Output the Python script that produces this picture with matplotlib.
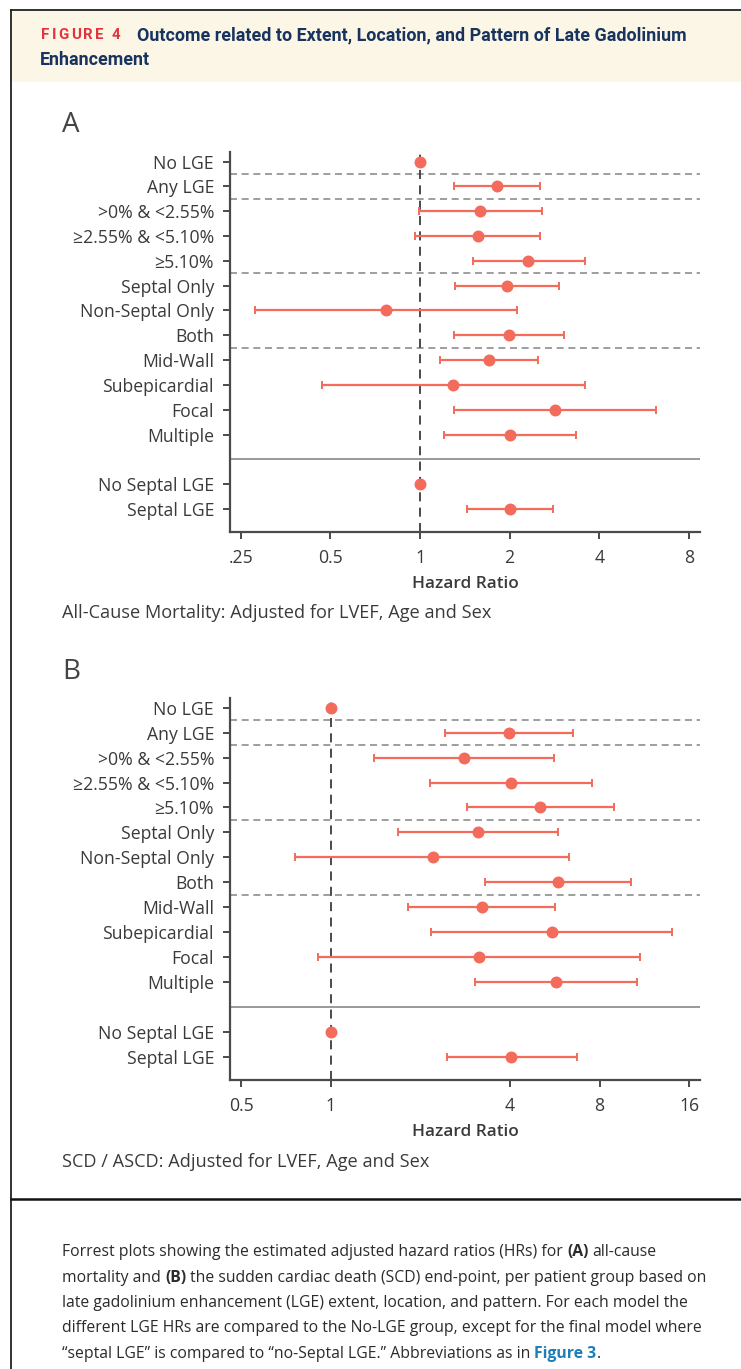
import numpy as np
import matplotlib
matplotlib.use("Agg")
import matplotlib.pyplot as plt
from matplotlib.patches import Rectangle
from matplotlib.lines import Line2D

# ---------------- data ----------------
categories = ["No LGE", "Any LGE", ">0% & <2.55%", "≥2.55% & <5.10%", "≥5.10%",
              "Septal Only", "Non-Septal Only", "Both", "Mid-Wall", "Subepicardial",
              "Focal", "Multiple", "No Septal LGE", "Septal LGE"]
row_pos = [0, 1, 2, 3, 4, 5, 6, 7, 8, 9, 10, 11, 13, 14]

hr_A = [1.00, 1.81, 1.59, 1.56, 2.31, 1.96, 0.77, 1.99, 1.70, 1.29, 2.85, 2.00, 1.00, 2.00]
lo_A = [np.nan, 1.30, 0.99, 0.96, 1.51, 1.31, 0.28, 1.30, 1.17, 0.47, 1.30, 1.20, np.nan, 1.44]
hi_A = [np.nan, 2.53, 2.56, 2.53, 3.57, 2.93, 2.12, 3.05, 2.50, 3.58, 6.22, 3.34, np.nan, 2.80]

hr_B = [1.00, 3.97, 2.80, 4.02, 5.05, 3.12, 2.20, 5.82, 3.22, 5.53, 3.16, 5.71, 1.00, 4.04]
lo_B = [np.nan, 2.42, 1.40, 2.16, 2.86, 1.68, 0.76, 3.30, 1.82, 2.18, 0.91, 3.05, np.nan, 2.45]
hi_B = [np.nan, 6.50, 5.61, 7.53, 8.97, 5.79, 6.30, 10.23, 5.66, 14.0, 10.97, 10.67, np.nan, 6.71]

xticks_A = [0.25, 0.5, 1, 2, 4, 8]
xticklabels_A = [".25", "0.5", "1", "2", "4", "8"]
xticks_B = [0.5, 1, 4, 8, 16]
xticklabels_B = ["0.5", "1", "4", "8", "16"]

dashed_sep = [0.5, 1.5, 4.5, 7.5]
solid_sep = 12

subtitle_A = "All-Cause Mortality: Adjusted for LVEF, Age and Sex"
subtitle_B = "SCD / ASCD: Adjusted for LVEF, Age and Sex"

# ---------------- style ----------------
W, H = 741, 1369
FAM = ["Open Sans", "DejaVu Sans"]
plt.rcParams["font.family"] = FAM
CORAL = "#F26B5B"
DARK = "#4a4a4a"
TXT = "#3a3a3a"

fig = plt.figure(figsize=(W / 100, H / 100), dpi=100)
fig.patch.set_facecolor("white")


def fx(px):
    return px / W


def fy(py):
    return 1 - py / H


# header band and frame
fig.patches.append(Rectangle((fx(11), fy(82)), 1 - fx(11), (82 - 10) / H,
                             transform=fig.transFigure, facecolor="#FCF6E6",
                             edgecolor="none", zorder=0))
fig.lines.append(Line2D([fx(11), 1], [fy(10), fy(10)], transform=fig.transFigure,
                        color="#222222", lw=1.3))
fig.lines.append(Line2D([fx(11), fx(11)], [fy(10), 0], transform=fig.transFigure,
                        color="#222222", lw=1.3))
fig.lines.append(Line2D([fx(11), 1], [fy(1199), fy(1199)], transform=fig.transFigure,
                        color="#111111", lw=1.8))

renderer = fig.canvas.get_renderer()


def text_width(s, **kw):
    t = fig.text(0, 0, s, **kw)
    w = t.get_window_extent(renderer).width
    t.remove()
    return w


def rich_line(x_px, y_px, segs, size, family=FAM):
    sp = text_width("a a", fontsize=size, family=family) - text_width("aa", fontsize=size, family=family)
    x = x_px
    for i, (s, weight, color, space) in enumerate(segs):
        if space and i > 0:
            x += sp
        t = fig.text(fx(x), fy(y_px), s, fontsize=size, fontweight=weight, color=color,
                     va="center", ha="left", family=family)
        x += t.get_window_extent(renderer).width


# "FIGURE 4" with letter spacing
HFAM = ["Roboto", "DejaVu Sans"]
x = 41
for ch in "FIGURE 4":
    t = fig.text(fx(x), fy(35), ch, fontsize=10.8, fontweight="bold", color="#E0353E",
                 va="center", ha="left", family=HFAM)
    x += t.get_window_extent(renderer).width + 2.2
TITLE_KW = dict(fontweight="bold", color="#17335E", va="center", ha="left", family=HFAM)
fig.text(fx(137), fy(35), "Outcome related to Extent, Location, and Pattern of Late Gadolinium",
         fontsize=12.85, **TITLE_KW)
fig.text(fx(40), fy(60), "Enhancement", fontsize=12.85, **TITLE_KW)


def forest(rect_px, hr, lo, hi, xlim, xticks, xticklabels, letter, letter_y,
           xlabel_y, subtitle, subtitle_y):
    l, t, r, b = rect_px
    ax = fig.add_axes([fx(l), fy(b), (r - l) / W, (b - t) / H])
    ax.set_xscale("log", base=2)
    ax.set_xlim(*xlim)
    ax.set_ylim(14.93, -0.39)
    ax.set_facecolor("none")

    hr = np.array(hr)
    lo = np.array(lo)
    hi = np.array(hi)
    pos = np.array(row_pos)
    has_ci = ~np.isnan(lo)
    xerr = np.vstack([hr[has_ci] - lo[has_ci], hi[has_ci] - hr[has_ci]])
    ax.errorbar(hr[has_ci], pos[has_ci], xerr=xerr, fmt="none", ecolor=CORAL,
                elinewidth=1.6, capsize=3.0, capthick=1.4, zorder=4)
    ax.plot(hr, pos, "o", color=CORAL, markersize=8.6, markeredgewidth=0, zorder=5)

    ax.axvline(1, color="#3c3c3c", lw=1.3, ls=(0, (5, 3.5)), zorder=2)
    for yy in dashed_sep:
        ax.axhline(yy, color="#8e8e8e", lw=1.2, ls=(0, (4.2, 2.8)), zorder=1)
    ax.axhline(solid_sep, color="#999999", lw=1.4, zorder=1)

    ax.set_yticks(row_pos)
    ax.set_yticklabels(categories)
    ax.set_xticks(xticks)
    ax.set_xticklabels(xticklabels)
    ax.xaxis.set_minor_locator(matplotlib.ticker.NullLocator())
    ax.tick_params(axis="both", direction="out", length=5, width=1.4, color=DARK,
                   labelcolor=TXT, labelsize=12.7)
    ax.tick_params(axis="y", pad=6.5)
    ax.tick_params(axis="x", pad=7)
    for s in ["top", "right"]:
        ax.spines[s].set_visible(False)
    for s in ["left", "bottom"]:
        ax.spines[s].set_color(DARK)
        ax.spines[s].set_linewidth(1.6)

    fig.text(fx((l + r) / 2), fy(xlabel_y), "Hazard Ratio", fontsize=12.4, fontweight="semibold",
             color=TXT, ha="center", va="center")
    fig.text(fx(62), fy(letter_y), letter, fontsize=20, color="#444444", ha="left", va="center")
    fig.text(fx(62), fy(subtitle_y), subtitle, fontsize=13.1, color=TXT, ha="left", va="center")
    return ax


forest((230, 152, 700, 532), hr_A, lo_A, hi_A, (0.23, 8.72), xticks_A, xticklabels_A,
       "A", 125, 584, subtitle_A, 613)
forest((230, 698, 700, 1080), hr_B, lo_B, hi_B, (0.459, 17.4), xticks_B, xticklabels_B,
       "B", 672, 1132, subtitle_B, 1162)

# caption
CAP = 11.3
N, Bd = "normal", "bold"
c = "#2b2b2b"
blue = "#1E7FB8"
caption_lines = [
    [("Forrest plots showing the estimated adjusted hazard ratios (HRs) for", N, c, True),
     ("(A)", Bd, c, True), ("all-cause", N, c, True)],
    [("mortality and", N, c, True), ("(B)", Bd, c, True),
     ("the sudden cardiac death (SCD) end-point, per patient group based on", N, c, True)],
    [("late gadolinium enhancement (LGE) extent, location, and pattern. For each model the", N, c, True)],
    [("different LGE HRs are compared to the No-LGE group, except for the final model where", N, c, True)],
    [("\u201cseptal LGE\u201d is compared to \u201cno-Septal LGE.\u201d Abbreviations as in", N, c, True),
     ("Figure 3", Bd, blue, True), (".", N, c, False)],
]
cap_y = [1252, 1278, 1303, 1328, 1354]
for segs, yy in zip(caption_lines, cap_y):
    rich_line(62, yy, segs, CAP)

fig.savefig("out.png", dpi=100, facecolor="white")
